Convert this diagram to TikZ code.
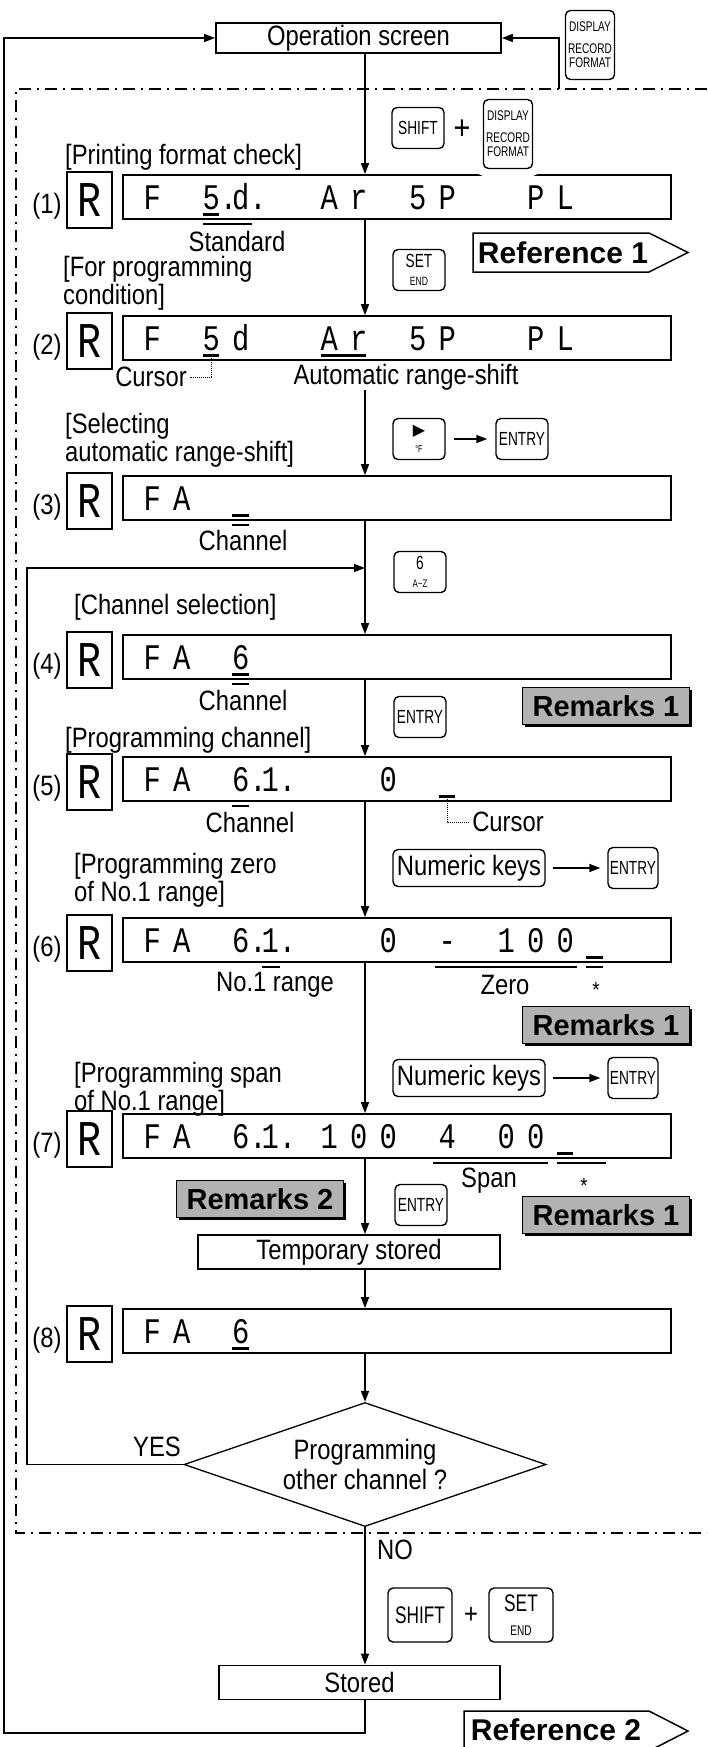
\documentclass[tikz,border=0pt]{standalone}
\usepackage{fontspec}
\setmainfont{Liberation Sans}[FakeStretch=0.85]
\newfontfamily\segfam{Liberation Mono}[FakeStretch=0.8]
\newfontfamily\keyfam{Liberation Sans}[FakeStretch=0.72]
\newfontfamily\remfam{Liberation Sans}
\newfontfamily\symfam{DejaVu Sans}
\usetikzlibrary{arrows.meta}
\usetikzlibrary{shapes.geometric}
\usetikzlibrary{shadows}

\begin{document}
\begin{tikzpicture}[x=1pt,y=-1pt,>={Triangle[length=11pt,width=8pt]},
    lbl/.style={inner sep=0pt,font=\fontsize{28}{28}\selectfont},
    ttl/.style={lbl,anchor=west,align=left},
    disp/.style={draw,line width=1.8pt,minimum width=548pt,minimum height=44pt,inner sep=0pt},
    digbox/.style={draw,line width=1.2pt,minimum width=45pt,minimum height=56pt,inner sep=0pt,font=\segfam\fontsize{50}{50}\selectfont},
    seg/.style={anchor=base west,inner sep=0pt,font=\segfam\fontsize{36}{36}\selectfont},
    key/.style={draw,rounded corners=5pt,line width=1.4pt,fill=white,minimum width=52pt,minimum height=41pt,inner sep=1pt,align=center,font=\keyfam\fontsize{19}{19}\selectfont},
    bigkey/.style={key,minimum width=64pt,minimum height=54pt,font=\keyfam\fontsize{24}{24}\selectfont},
    dispkey/.style={key,minimum width=49pt,minimum height=69pt,font=\keyfam\fontsize{14}{14}\selectfont},
    gapkey/.style={preaction={draw=white,line width=18pt}},
    numkey/.style={key,minimum width=152pt,minimum height=37pt,font=\fontsize{28}{28}\selectfont},
    proc/.style={draw,line width=1.8pt,minimum height=34pt,inner sep=0pt,font=\fontsize{28}{28}\selectfont},
    remark/.style={draw,fill=gray!60,line width=1pt,minimum width=167pt,minimum height=37pt,inner sep=0pt,
        font=\remfam\bfseries\fontsize{29}{29}\selectfont,
        drop shadow={shadow xshift=2.5pt,shadow yshift=-2.5pt,fill=black,opacity=1}},
    reftxt/.style={inner sep=0pt,font=\remfam\bfseries\fontsize{30}{30}\selectfont},
    decide/.style={diamond,draw,line width=1.3pt,aspect=2.9,minimum width=362pt,minimum height=124pt,inner sep=0pt,align=center,font=\fontsize{28}{30}\selectfont},
    flow/.style={->,line width=1.5pt},
    curs/.style={line width=3pt},
    brk/.style={line width=1.5pt},
    lead/.style={densely dotted,line width=1pt},
    frame/.style={line width=1.6pt,dash pattern=on 12pt off 6pt on 2pt off 6pt}]
    \useasboundingbox (0,0) rectangle (707,1747);
    \coordinate (mx) at (365,0);
    \draw[frame] (707,89) -- (16,89) -- (16,1533) -- (707,1533);

    \node[proc,minimum width=285pt,minimum height=30pt] (op) at (358.5,38) {Operation screen};
    \node[dispkey] (kdisp1) at (590,45) {DISPLAY\\[8pt]RECORD\\FORMAT};

    \foreach \i/\y in {1/197,2/338,3/498,4/657,5/779,6/940,7/1136,8/1331}{
        \node[disp] (d\i) at (397,\y) {};
        \node[digbox] (r\i) at (89.5,\y+3) {R};
        \node[lbl] (n\i) at (47,\y+9) {(\i)};
    }

    \foreach \c/\t in {0/F,2/5.,3/d.,6/A,7/r,9/5,10/P,13/P,14/L}
        \node[seg] (g1-\c) at ({143.3+29.5*\c},209.5) {\t};
    \foreach \c/\t in {0/F,2/5,3/d,6/A,7/r,9/5,10/P,13/P,14/L}
        \node[seg] (g2-\c) at ({143.3+29.5*\c},350.5) {\t};
    \foreach \c/\t in {0/F,1/A}
        \node[seg] (g3-\c) at ({143.3+29.5*\c},510.5) {\t};
    \foreach \c/\t in {0/F,1/A,3/6}
        \node[seg] (g4-\c) at ({143.3+29.5*\c},669.5) {\t};
    \foreach \c/\t in {0/F,1/A,3/6.,4/1.,8/0}
        \node[seg] (g5-\c) at ({143.3+29.5*\c},791.5) {\t};
    \foreach \c/\t in {0/F,1/A,3/6.,4/1.,8/0,10/-,12/1,13/0,14/0}
        \node[seg] (g6-\c) at ({143.3+29.5*\c},952.5) {\t};
    \foreach \c/\t in {0/F,1/A,3/6.,4/1.,6/1,7/0,8/0,10/4,12/0,13/0}
        \node[seg] (g7-\c) at ({143.3+29.5*\c},1148.5) {\t};
    \foreach \c/\t in {0/F,1/A,3/6}
        \node[seg] (g8-\c) at ({143.3+29.5*\c},1343.5) {\t};

    \draw[curs] (203,214.5) -- (219,214.5);
    \draw[brk] (203,224) -- (252,224);
    \draw[curs] (203,355.5) -- (219,355.5);
    \draw[curs] (321,355.5) -- (366,355.5);
    \draw[curs] (232,515.5) -- (249,515.5);
    \draw[brk] (232,525) -- (249,525);
    \draw[curs] (232,674.5) -- (249,674.5);
    \draw[brk] (232,684) -- (249,684);
    \draw[curs] (439,796.5) -- (455,796.5);
    \draw[brk] (232,806) -- (249,806);
    \draw[curs] (586,957.5) -- (603,957.5);
    \draw[brk] (262,967) -- (280,967);
    \draw[brk] (435,967) -- (577,967);
    \draw[brk] (586,967) -- (603,967);
    \draw[curs] (557,1153.5) -- (573,1153.5);
    \draw[brk] (433,1163) -- (548,1163);
    \draw[brk] (557,1163) -- (606,1163);
    \draw[curs] (232,1348.5) -- (249,1348.5);

    \node[ttl] (t1) at (65,157) {[Printing format check]};
    \node[ttl] (t2) at (63,283) {[For programming\\condition]};
    \node[ttl] (t3) at (65,440) {[Selecting\\automatic range-shift]};
    \node[ttl] (t4) at (74,607) {[Channel selection]};
    \node[ttl] (t5) at (65,740) {[Programming channel]};
    \node[ttl] (t6) at (74,880) {[Programming zero\\of No.1 range]};
    \node[ttl] (t7) at (74,1089) {[Programming span\\of No.1 range]};

    \node[lbl] (std) at (237,241) {Standard};
    \node[lbl] (cur2) at (151,377) {Cursor};
    \node[lbl] (auto) at (406,377) {Automatic range-shift};
    \node[lbl] (ch3) at (243,540) {Channel};
    \node[lbl] (ch4) at (243,700) {Channel};
    \node[lbl] (ch5) at (250,822) {Channel};
    \node[lbl] (cur5) at (508,822) {Cursor};
    \node[lbl] (rng6) at (275,985) {No.1 range};
    \node[lbl] (zero6) at (505,985) {Zero};
    \node[lbl,font=\fontsize{22}{22}\selectfont] (ast6) at (596,990) {*};
    \node[lbl] (span7) at (489,1181) {Span};
    \node[lbl,font=\fontsize{22}{22}\selectfont] (ast7) at (584,1186) {*};
    \coordinate (cx2) at (211,358);
    \coordinate (cx5) at (447,799);
    \draw[lead,shorten >=3pt] (cx2) |- (cur2.east);
    \draw[lead,shorten >=3pt] (cx5) |- (cur5.west);

    \node[key] (shift1) at (418,128) {SHIFT};
    \node[lbl,font=\fontsize{34}{34}\selectfont] (plus1) at (462,130) {+};
    \node[dispkey,gapkey] (kdisp2) at (508,134) {DISPLAY\\[8pt]RECORD\\FORMAT};
    \node[key] (set1) at (419,270) {SET\\[-1pt]{\fontsize{12}{12}\selectfont END}};
    \node[key] (right1) at (419,439) {{\symfam\fontsize{16}{16}\selectfont ▶}\\[-2pt]{\fontsize{10}{10}\selectfont °F}};
    \node[key] (entry1) at (522,439) {ENTRY};
    \node[key] (six) at (420,572) {6\\[-1pt]{\fontsize{11}{11}\selectfont A\textasciitilde Z}};
    \node[key] (entry2) at (420,717) {ENTRY};
    \node[numkey] (num1) at (469,868) {Numeric keys};
    \node[key,minimum width=50pt] (entry3) at (633,868) {ENTRY};
    \node[numkey] (num2) at (469,1078) {Numeric keys};
    \node[key,minimum width=50pt] (entry4) at (633,1078) {ENTRY};
    \node[key] (entry5) at (421,1205) {ENTRY};
    \node[bigkey] (shift2) at (420,1615) {SHIFT};
    \node[lbl] (plus2) at (471,1615) {+};
    \node[bigkey] (set2) at (521,1615) {SET\\{\fontsize{14}{14}\selectfont END}};

    \node[remark] (rem1a) at (606,706) {Remarks 1};
    \node[remark] (rem1b) at (606,1025) {Remarks 1};
    \node[remark] (rem2) at (260,1199) {Remarks 2};
    \node[remark] (rem1c) at (606,1215) {Remarks 1};

    \draw[line width=1.5pt] (473,233) -- (649,233) -- (688,252.5) -- (649,272) -- (473,272) -- cycle;
    \node[reftxt] (ref1) at (563,252.5) {Reference 1};
    \draw[line width=1.5pt] (464,1711) -- (649,1711) -- (688,1731) -- (649,1751) -- (464,1751) -- cycle;
    \node[reftxt] (ref2) at (556,1730) {Reference 2};

    \node[proc,minimum width=302pt] (tmp) at (349,1252) {Temporary stored};
    \node[decide] (ask) at (365,1464.5) {Programming\\other channel ?};
    \node[lbl] (yes) at (157,1447) {YES};
    \node[lbl,anchor=west] (no) at (377,1550) {NO};
    \node[proc,minimum width=281pt] (st) at (359.5,1682.5) {Stored};

    \coordinate (rtop) at (559,89);
    \coordinate (loopL) at (27,568);
    \coordinate (lowL) at (4,1733);
    \draw[flow] (rtop) |- (op.east);
    \draw[flow] (op.south -| mx) -- (d1.north -| mx);
    \draw[flow] (d1.south -| mx) -- (d2.north -| mx);
    \draw[flow] (auto.south -| mx) -- (d3.north -| mx);
    \draw[flow] (d3.south -| mx) -- (d4.north -| mx);
    \draw[flow] (d4.south -| mx) -- (d5.north -| mx);
    \draw[flow] (d5.south -| mx) -- (d6.north -| mx);
    \draw[flow] (d6.south -| mx) -- (d7.north -| mx);
    \draw[flow] (d7.south -| mx) -- (tmp.north -| mx);
    \draw[flow] (tmp.south -| mx) -- (d8.north -| mx);
    \draw[flow] (d8.south -| mx) -- (ask.north);
    \draw[flow] (ask.south) -- (st.north -| mx);
    \draw[flow] (ask.west) -| (loopL) -- (loopL -| mx);
    \draw[flow] (st.south -| mx) |- (lowL) |- (op.west);
    \draw[flow,shorten <=8pt,shorten >=8pt] (right1) -- (entry1);
    \draw[flow,shorten <=7pt,shorten >=7pt] (num1) -- (entry3);
    \draw[flow,shorten <=7pt,shorten >=7pt] (num2) -- (entry4);
\end{tikzpicture}
\end{document}
